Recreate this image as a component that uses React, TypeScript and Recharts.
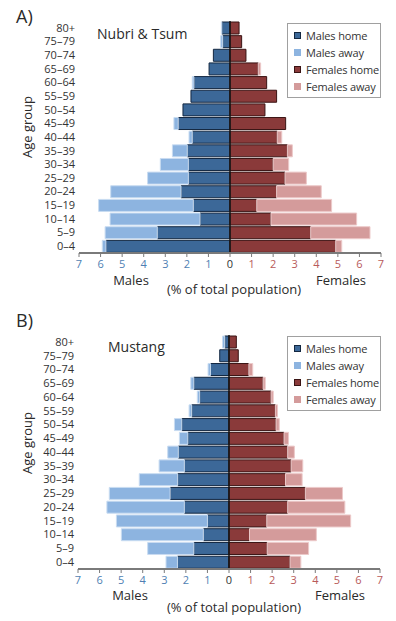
import React from "react";
import { BarChart, Bar, XAxis, YAxis, CartesianGrid, ReferenceLine, Legend } from "recharts";

const AGE_GROUPS = ["0–4", "5–9", "10–14", "15–19", "20–24", "25–29", "30–34", "35–39", "40–44", "45–49", "50–54", "55–59", "60–64", "65–69", "70–74", "75–79", "80+"];

// Panel A: Nubri & Tsum
const A_MALES_HOME = [5.75, 3.37, 1.39, 1.70, 2.27, 1.93, 1.93, 1.98, 1.75, 2.40, 2.18, 1.81, 1.67, 0.97, 0.77, 0.34, 0.38];
const A_MALES_AWAY = [0.17, 2.42, 4.17, 4.39, 3.26, 1.89, 1.30, 0.69, 0.15, 0.20, 0, 0, 0.08, 0, 0, 0.09, 0.02];
const A_FEMALES_HOME = [4.90, 3.74, 1.90, 1.24, 2.16, 2.55, 2.00, 2.66, 2.19, 2.58, 1.62, 2.16, 1.70, 1.31, 0.74, 0.54, 0.42];
const A_FEMALES_AWAY = [0.28, 2.75, 3.97, 3.47, 2.07, 0.99, 0.72, 0.23, 0.21, 0, 0, 0, 0, 0.11, 0, 0, 0];

// Panel B: Mustang
const B_MALES_HOME = [2.39, 1.63, 1.19, 1.00, 2.07, 2.73, 2.38, 2.07, 2.35, 1.91, 2.19, 1.73, 1.36, 1.63, 0.86, 0.43, 0.20];
const B_MALES_AWAY = [0.53, 2.14, 3.80, 4.22, 3.59, 2.82, 1.78, 1.17, 0.49, 0.39, 0.34, 0.12, 0.11, 0.14, 0.11, 0, 0.10];
const B_FEMALES_HOME = [2.83, 1.77, 0.95, 1.75, 2.72, 3.54, 2.62, 2.88, 2.72, 2.55, 2.18, 2.15, 1.95, 1.58, 0.92, 0.43, 0.34];
const B_FEMALES_AWAY = [0.50, 1.92, 3.10, 3.89, 2.65, 1.72, 0.77, 0.54, 0.31, 0.21, 0.15, 0.10, 0.10, 0.10, 0.18, 0, 0];

const X_TICKS = [-7, -6, -5, -4, -3, -2, -1, 0, 1, 2, 3, 4, 5, 6, 7];

const SERIES = [
  { key: "mh", name: "Males home", fill: "#3c6898", stroke: "#132740" },
  { key: "ma", name: "Males away", fill: "#8db4e0", stroke: "#c9dcf1" },
  { key: "fh", name: "Females home", fill: "#8a3a3a", stroke: "#3a1414" },
  { key: "fa", name: "Females away", fill: "#d49b9b", stroke: "#ecc9c9" },
];

const FONT = "'Open Sans', 'Noto Sans', sans-serif";

function buildRows(mh: number[], ma: number[], fh: number[], fa: number[]) {
  return AGE_GROUPS.map((age, i) => ({
    age,
    mh: -mh[i],
    ma: -ma[i],
    fh: fh[i],
    fa: fa[i],
  }));
}

const XTick = (props: any) => {
  const { x, y, payload } = props;
  const v = payload.value;
  const fill = v < 0 ? "#4f7fb3" : v > 0 ? "#b85a5a" : "#333";
  return (
    <text x={x} y={y} dy="0.71em" textAnchor="middle" fontSize={11} fontFamily={FONT} fill={fill}>
      {Math.abs(v)}
    </text>
  );
};

const LegendBox = () => (
  <div
    style={{
      border: "1px solid #a0a0a0",
      background: "#fff",
      padding: "3px 0 2px 6px",
      boxSizing: "border-box",
      width: 94,
      fontFamily: FONT,
      fontSize: 11,
      letterSpacing: -0.15,
      color: "#333",
      overflow: "visible",
    }}
  >
    {SERIES.map((s) => (
      <div key={s.key} style={{ display: "flex", alignItems: "center", height: 17, whiteSpace: "nowrap" }}>
        <span
          style={{
            display: "inline-block",
            flexShrink: 0,
            width: 5,
            height: 5,
            background: s.fill,
            border: `1px solid ${s.key.endsWith("h") ? s.stroke : s.fill}`,
            marginRight: 5,
          }}
        />
        <span style={{ whiteSpace: "nowrap", flexShrink: 0 }}>{s.name}</span>
      </div>
    ))}
  </div>
);

const Txt = ({ x, y, size, children, rotate, anchor }: any) => (
  <div
    style={{
      position: "absolute",
      left: x,
      top: y,
      transform: `translate(${anchor === "left" ? "0" : "-50%"}, -50%)${rotate ? ` rotate(${rotate}deg)` : ""}`,
      fontFamily: FONT,
      fontSize: size,
      lineHeight: 1,
      color: "#2a2a2a",
      whiteSpace: "nowrap",
    }}
  >
    {children}
  </div>
);

const gridGenerator = ({ xAxis }: any) => {
  if (!xAxis || typeof xAxis.scale !== "function") return [];
  return X_TICKS.filter((t) => t > -7).map((t) => xAxis.scale(t));
};

function Pyramid({ rows, height, margin, yWidth, legendTop }: any) {
  return (
    <BarChart
      width={396}
      height={height}
      data={rows}
      layout="vertical"
      stackOffset="sign"
      barCategoryGap={1}
      margin={margin}
    >
      <CartesianGrid horizontal={false} stroke="#d4d4d4" verticalCoordinatesGenerator={gridGenerator} />
      <XAxis
        type="number"
        domain={[-7, 7]}
        ticks={X_TICKS}
        interval={0}
        height={20}
        tick={<XTick />}
        tickSize={4}
        tickMargin={3}
        axisLine={{ stroke: "#7a7a7a", strokeWidth: 2 }}
        tickLine={{ stroke: "#7a7a7a" }}
      />
      <YAxis
        type="category"
        dataKey="age"
        reversed
        width={yWidth}
        axisLine={false}
        tickLine={false}
        tickSize={0}
        tickMargin={4}
        interval={0}
        tick={{ fontSize: 11, fill: "#333", fontFamily: FONT }}
      />
      {SERIES.map((s) => (
        <Bar
          key={s.key}
          dataKey={s.key}
          name={s.name}
          stackId="pop"
          fill={s.fill}
          stroke={s.stroke}
          strokeWidth={1}
          isAnimationActive={false}
        />
      ))}
      <ReferenceLine x={0} stroke="#161616" strokeWidth={1.5} />
      <Legend
        layout="vertical"
        align="center"
        verticalAlign="middle"
        content={<LegendBox />}
        wrapperStyle={{ left: 287, top: legendTop, width: 94, height: "auto" }}
      />
    </BarChart>
  );
}

export default function App() {
  const rowsA = buildRows(A_MALES_HOME, A_MALES_AWAY, A_FEMALES_HOME, A_FEMALES_AWAY);
  const rowsB = buildRows(B_MALES_HOME, B_MALES_AWAY, B_FEMALES_HOME, B_FEMALES_AWAY);
  return (
    <div style={{ position: "absolute", left: 0, top: 0, width: 396, height: 621, background: "#fff" }}>
      <div style={{ position: "absolute", left: 0, top: 0 }}>
        <Pyramid rows={rowsA} height={300} margin={{ top: 21, right: 15, bottom: 27, left: 0 }} yWidth={79} legendTop={23} />
      </div>
      <div style={{ position: "absolute", left: 0, top: 300 }}>
        <Pyramid rows={rowsB} height={321} margin={{ top: 35, right: 16, bottom: 32, left: 0 }} yWidth={78} legendTop={36} />
      </div>

      <Txt x={16} y={16} size={18} anchor="left">A)</Txt>
      <Txt x={97} y={34} size={14} anchor="left">Nubri &amp; Tsum</Txt>
      <Txt x={27} y={127} size={13} rotate={-90}>Age group</Txt>
      <Txt x={131} y={280} size={13}>Males</Txt>
      <Txt x={341} y={280} size={13}>Females</Txt>
      <Txt x={234} y={289} size={13}>(% of total population)</Txt>

      <Txt x={16} y={320} size={18} anchor="left">B)</Txt>
      <Txt x={108} y={347} size={14} anchor="left">Mustang</Txt>
      <Txt x={27} y={443} size={13} rotate={-90}>Age group</Txt>
      <Txt x={130} y={595} size={13}>Males</Txt>
      <Txt x={340} y={595} size={13}>Females</Txt>
      <Txt x={234} y={607} size={13}>(% of total population)</Txt>
    </div>
  );
}
